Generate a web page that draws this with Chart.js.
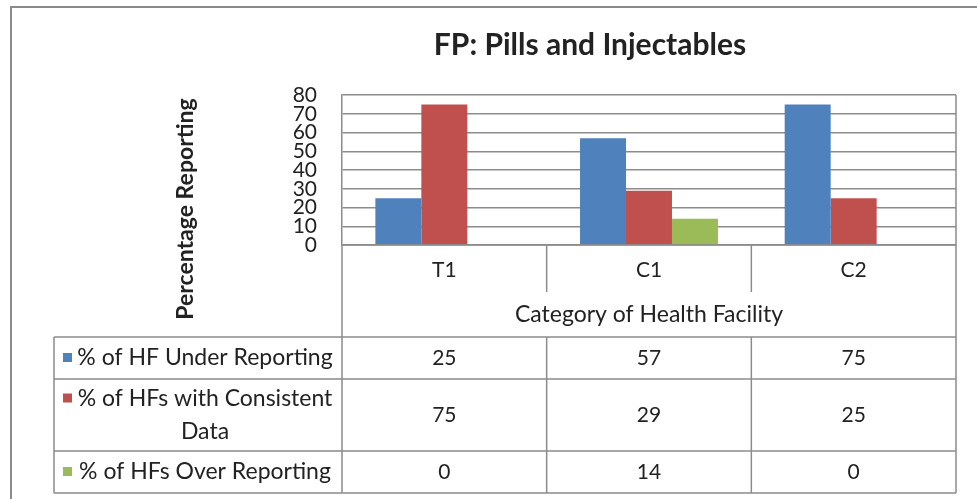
<!DOCTYPE html>
<html>
<head>
<meta charset="utf-8">
<script src="https://cdn.jsdelivr.net/npm/chart.js@4/dist/chart.umd.min.js"></script>
<style>
  html, body { margin: 0; padding: 0; background: #fff; }
  #wrap { width: 977px; height: 499px; position: relative; }
</style>
</head>
<body>
<div id="wrap"><canvas id="fpChart"></canvas></div>
<script>
// 1. chart data
const categories = ['T1', 'C1', 'C2'];
const seriesNames = ['% of HF Under Reporting', '% of HFs with Consistent Data', '% of HFs Over Reporting'];
const underReporting = [25, 57, 75];
const consistentData = [75, 29, 25];
const overReporting = [0, 14, 0];
const yTicks = [0, 10, 20, 30, 40, 50, 60, 70, 80];

// 1.1 text
const chartTitle = 'FP: Pills and Injectables';
const yTitle = 'Percentage Reporting';
const xTitle = 'Category of Health Facility';

// 1.2 colours (Excel 2007 palette)
const colors = ['#4F81BD', '#C0504D', '#9BBB59'];
const lineGray = '#8c8c8c';
const textColor = '#222';
const FONT = 'Lato, "Open Sans", sans-serif';

const seriesValues = [underReporting, consistentData, overReporting];

// 2. plugin: frame, title, axis title and the data table under the chart
const tablePlugin = {
    id: 'dataTable',
    beforeDraw(chart) {
        const ctx = chart.ctx;
        ctx.save();
        // 2.1 outer frame
        ctx.strokeStyle = '#8a8a8a';
        ctx.lineWidth = 2;
        ctx.beginPath();
        ctx.moveTo(11, 499);
        ctx.lineTo(11, 7);
        ctx.lineTo(977, 7);
        ctx.stroke();
        ctx.restore();
    },
    afterDraw(chart) {
        const ctx = chart.ctx;
        const area = chart.chartArea;
        const x = chart.scales.x;
        const left = area.left, right = area.right;
        const tableLeft = 54;
        const rowLines = [337, 379, 451, 493];
        const catBottom = 292;

        ctx.save();

        // 2.2 chart title
        ctx.fillStyle = textColor;
        ctx.font = 'bold 30px ' + FONT;
        ctx.textAlign = 'center';
        ctx.textBaseline = 'middle';
        ctx.fillText(chartTitle, 590, 45);

        // 2.3 y axis title (rotated)
        ctx.save();
        ctx.translate(186, 209);
        ctx.rotate(-Math.PI / 2);
        ctx.font = 'bold 23px ' + FONT;
        ctx.fillText(yTitle, 0, 0);
        ctx.restore();

        // 2.4 grid lines of the table
        ctx.strokeStyle = lineGray;
        ctx.lineWidth = 1.5;
        ctx.beginPath();
        ctx.moveTo(right, area.top);
        ctx.lineTo(right, rowLines[3]);
        ctx.moveTo(left, area.bottom);
        ctx.lineTo(left, rowLines[3]);
        ctx.moveTo(left, area.bottom);
        ctx.lineTo(right, area.bottom);
        for (let i = 1; i < categories.length; i++) {
            const xd = (x.getPixelForValue(i - 1) + x.getPixelForValue(i)) / 2;
            ctx.moveTo(xd, area.bottom);
            ctx.lineTo(xd, catBottom);
            ctx.moveTo(xd, rowLines[0]);
            ctx.lineTo(xd, rowLines[3]);
        }
        rowLines.forEach(y => {
            ctx.moveTo(tableLeft, y);
            ctx.lineTo(right, y);
        });
        ctx.moveTo(tableLeft, rowLines[0]);
        ctx.lineTo(tableLeft, rowLines[3]);
        ctx.stroke();

        // 2.5 category labels + x title
        ctx.fillStyle = textColor;
        ctx.font = '21px ' + FONT;
        categories.forEach((c, i) => {
            ctx.fillText(c, x.getPixelForValue(i), 270);
        });
        ctx.font = '23px ' + FONT;
        ctx.fillText(xTitle, (left + right) / 2, 315);

        // 2.6 table rows: legend key, name, values
        const textLeft = 74;
        const wrapped = [['% of HF Under Reporting'], ['% of HFs with Consistent', 'Data'], ['% of HFs Over Reporting']];
        seriesNames.forEach((name, r) => {
            const top = rowLines[r], bottom = rowLines[r + 1];
            const cy = (top + bottom) / 2;
            ctx.font = '23px ' + FONT;
            ctx.textAlign = 'center';
            const lines = wrapped[r];
            const lh = 33;
            const y0 = cy - (lines.length - 1) * lh / 2;
            lines.forEach((ln, k) => {
                ctx.fillText(ln, (textLeft + left - 6) / 2, y0 + k * lh);
            });
            // key square beside first line
            ctx.fillStyle = colors[r];
            ctx.fillRect(63, y0 - 5, 9, 9);
            ctx.fillStyle = textColor;
            // values
            ctx.font = '21px ' + FONT;
            seriesValues[r].forEach((v, i) => {
                ctx.fillText(String(v), x.getPixelForValue(i), cy);
            });
        });

        ctx.restore();
    }
};

// 3. build the chart
const ctx = document.getElementById('fpChart').getContext('2d');
new Chart(ctx, {
    type: 'bar',
    data: {
        labels: categories,
        datasets: seriesNames.map((name, i) => ({
            label: name,
            data: seriesValues[i],
            backgroundColor: colors[i],
            borderWidth: 0,
            categoryPercentage: 0.674,
            barPercentage: 1
        }))
    },
    options: {
        responsive: true,
        maintainAspectRatio: false,
        animation: false,
        layout: {
            padding: { top: 95, right: 21, bottom: 254, left: 0 }
        },
        plugins: {
            legend: { display: false },
            tooltip: { enabled: false },
            title: { display: false }
        },
        scales: {
            x: {
                display: false
            },
            y: {
                min: 0,
                max: 80,
                afterFit(scale) { scale.width = 342; },
                afterBuildTicks(scale) { scale.ticks = yTicks.map(v => ({ value: v })); },
                ticks: {
                    autoSkip: false,
                    padding: 25,
                    color: textColor,
                    font: { family: FONT, size: 21, lineHeight: 0.9 }
                },
                grid: {
                    color: lineGray,
                    lineWidth: 1.5,
                    drawTicks: false
                },
                border: { display: true, color: lineGray, width: 1.5 }
            }
        }
    },
    plugins: [tablePlugin]
});
</script>
</body>
</html>
